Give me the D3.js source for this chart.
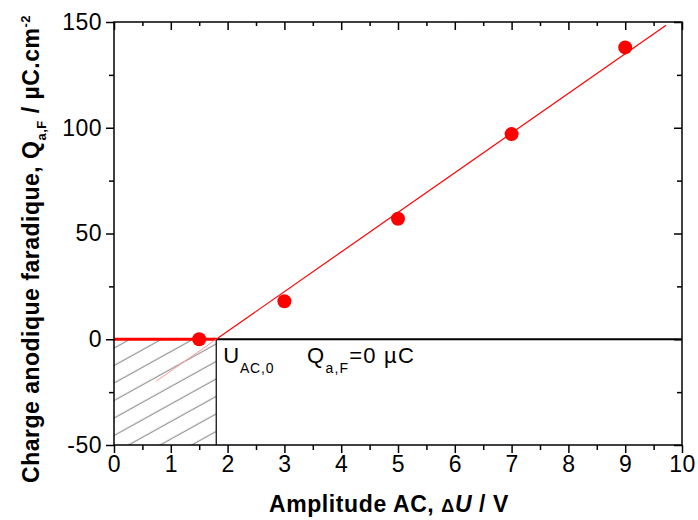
<!DOCTYPE html>
<html>
<head>
<meta charset="utf-8">
<script src="https://cdn.jsdelivr.net/npm/d3@7"></script>
<style>
  html, body { margin: 0; padding: 0; background: #fff; }
  svg { display: block; font-family: "Liberation Sans", Arial, sans-serif; }
</style>
</head>
<body>
<svg id="chart" width="698" height="520"></svg>
<script>
// ---- data ----
const amplitudes = [1.5, 3, 5, 7, 9];          // ΔU / V
const charges = [0, 18, 57, 97, 138];           // Q_a,F / µC.cm-2
const fitU0 = 1.8;                               // U_AC,0 (zero crossing)
const fitSlope = 18.75;                          // µC.cm-2 per V
const fitXEnd = 9.72;
const fitXFaintStart = 0.74;
const xTicks = [0, 1, 2, 3, 4, 5, 6, 7, 8, 9, 10];
const xMinorTicks = [0.5, 1.5, 2.5, 3.5, 4.5, 5.5, 6.5, 7.5, 8.5, 9.5];
const yTicks = [-50, 0, 50, 100, 150];
const yMinorTicks = [-25, 25, 75, 125];

const svg = d3.select("#chart");
const L = 114, R = 682, T = 22, B = 445;
const x = d3.scaleLinear().domain([0, 10]).range([L, R]);
const y = d3.scaleLinear().domain([-50, 150]).range([B, T]);
const fit = u => fitSlope * (u - fitU0);
const fmt = d => String(d);

// hatch pattern
const defs = svg.append("defs");
const pat = defs.append("pattern")
  .attr("id", "hatch").attr("patternUnits", "userSpaceOnUse")
  .attr("width", 20).attr("height", 15.3)
  .attr("patternTransform", "translate(" + L + "," + B + ") rotate(-29)");
pat.append("line").attr("x1", 0).attr("x2", 20).attr("y1", 7).attr("y2", 7)
  .attr("stroke", "#808080").attr("stroke-width", 1);

// hatched region (x 0..U0, y -50..0)
svg.append("rect")
  .attr("x", x(0)).attr("y", y(0))
  .attr("width", x(fitU0) - x(0)).attr("height", y(-50) - y(0))
  .attr("fill", "url(#hatch)");

// vertical line at U0
svg.append("line")
  .attr("x1", x(fitU0)).attr("x2", x(fitU0))
  .attr("y1", y(0)).attr("y2", y(-50))
  .attr("stroke", "#000").attr("stroke-width", 1.2);

// zero line from U0 to 10 (black)
svg.append("line")
  .attr("x1", x(fitU0)).attr("x2", x(10))
  .attr("y1", y(0)).attr("y2", y(0))
  .attr("stroke", "#000").attr("stroke-width", 2);

// red thick line 0..U0
svg.append("line")
  .attr("x1", x(0)).attr("x2", x(fitU0))
  .attr("y1", y(0)).attr("y2", y(0))
  .attr("stroke", "#ff0000").attr("stroke-width", 3);

// faint extension of fit
svg.append("line")
  .attr("x1", x(fitXFaintStart)).attr("y1", y(fit(fitXFaintStart)))
  .attr("x2", x(fitU0)).attr("y2", y(0))
  .attr("stroke", "#ff9a9a").attr("stroke-width", 1);

// fit line
svg.append("line")
  .attr("x1", x(fitU0)).attr("y1", y(0))
  .attr("x2", x(fitXEnd)).attr("y2", y(fit(fitXEnd)))
  .attr("stroke", "#ff0000").attr("stroke-width", 1.2);

// points
svg.append("g").selectAll("circle")
  .data(amplitudes.map((a, i) => [a, charges[i]]))
  .join("circle")
  .attr("cx", d => x(d[0])).attr("cy", d => y(d[1]))
  .attr("r", 7).attr("fill", "#ff0000");

// frame
svg.append("rect").attr("x", L).attr("y", T).attr("width", R - L).attr("height", B - T)
  .attr("fill", "none").attr("stroke", "#000").attr("stroke-width", 1.5);

// axes
function styleAxis(g) {
  g.select(".domain").remove();
  g.selectAll(".tick line").attr("stroke", "#000").attr("stroke-width", 1.5);
  g.selectAll(".tick text").attr("font-size", 23).attr("fill", "#000")
    .attr("letter-spacing", 0.5)
    .attr("font-family", "Liberation Sans, Arial, sans-serif");
}
svg.append("g").attr("transform", `translate(0,${B})`)
  .call(d3.axisBottom(x).tickValues(xTicks).tickSize(8).tickPadding(3).tickFormat(fmt))
  .call(styleAxis);
svg.append("g").attr("transform", `translate(0,${B})`)
  .call(d3.axisBottom(x).tickValues(xMinorTicks).tickSize(5).tickFormat(""))
  .call(styleAxis);
svg.append("g").attr("transform", `translate(${L},0)`)
  .call(d3.axisLeft(y).tickValues(yTicks).tickSize(8).tickPadding(4).tickFormat(fmt))
  .call(styleAxis);
svg.append("g").attr("transform", `translate(${L},0)`)
  .call(d3.axisLeft(y).tickValues(yMinorTicks).tickSize(5).tickFormat(""))
  .call(styleAxis);
// top & right inward ticks
svg.append("g").attr("transform", `translate(0,${T})`)
  .call(d3.axisBottom(x).tickValues(xTicks).tickSize(8).tickFormat(""))
  .call(styleAxis);
svg.append("g").attr("transform", `translate(0,${T})`)
  .call(d3.axisBottom(x).tickValues(xMinorTicks).tickSize(4).tickFormat(""))
  .call(styleAxis);
svg.append("g").attr("transform", `translate(${R},0)`)
  .call(d3.axisLeft(y).tickValues(yTicks).tickSize(8).tickFormat(""))
  .call(styleAxis);
svg.append("g").attr("transform", `translate(${R},0)`)
  .call(d3.axisLeft(y).tickValues(yMinorTicks).tickSize(5).tickFormat(""))
  .call(styleAxis);

// annotations
const u0 = svg.append("text").attr("x", x(fitU0) + 7).attr("y", y(0) + 24)
  .attr("font-size", 22).attr("fill", "#000").attr("letter-spacing", 0.8);
u0.append("tspan").text("U");
u0.append("tspan").attr("font-size", 14).attr("dy", 10).text("AC,0");

const qz = svg.append("text").attr("x", x(3.4)).attr("y", y(0) + 24)
  .attr("font-size", 22).attr("fill", "#000").attr("letter-spacing", 1.2);
qz.append("tspan").text("Q");
qz.append("tspan").attr("font-size", 14).attr("dy", 10).text("a,F");
qz.append("tspan").attr("dy", -10).text("=0 µC");

// x axis title
const xt = svg.append("text").attr("x", 389).attr("y", 512)
  .attr("text-anchor", "middle").attr("font-size", 23).attr("font-weight", "bold")
  .attr("letter-spacing", 0.6);
xt.append("tspan").text("Amplitude AC, ");
xt.append("tspan").attr("font-size", 18).text("Δ");
xt.append("tspan").attr("font-style", "italic").text("U");
xt.append("tspan").text(" / V");

// y axis title
const yt = svg.append("text").attr("transform", `translate(39,249) rotate(-90)`)
  .attr("text-anchor", "middle").attr("font-size", 23).attr("font-weight", "bold")
  .attr("letter-spacing", 0.5);
yt.append("tspan").text("Charge anodique faradique,  ");
yt.append("tspan").text("Q");
yt.append("tspan").attr("font-size", 13).attr("dy", 7).text("a,F");
yt.append("tspan").attr("dy", -7).text("   / µC.cm");
yt.append("tspan").attr("font-size", 13).attr("dy", -9).text("-2");
</script>
</body>
</html>
